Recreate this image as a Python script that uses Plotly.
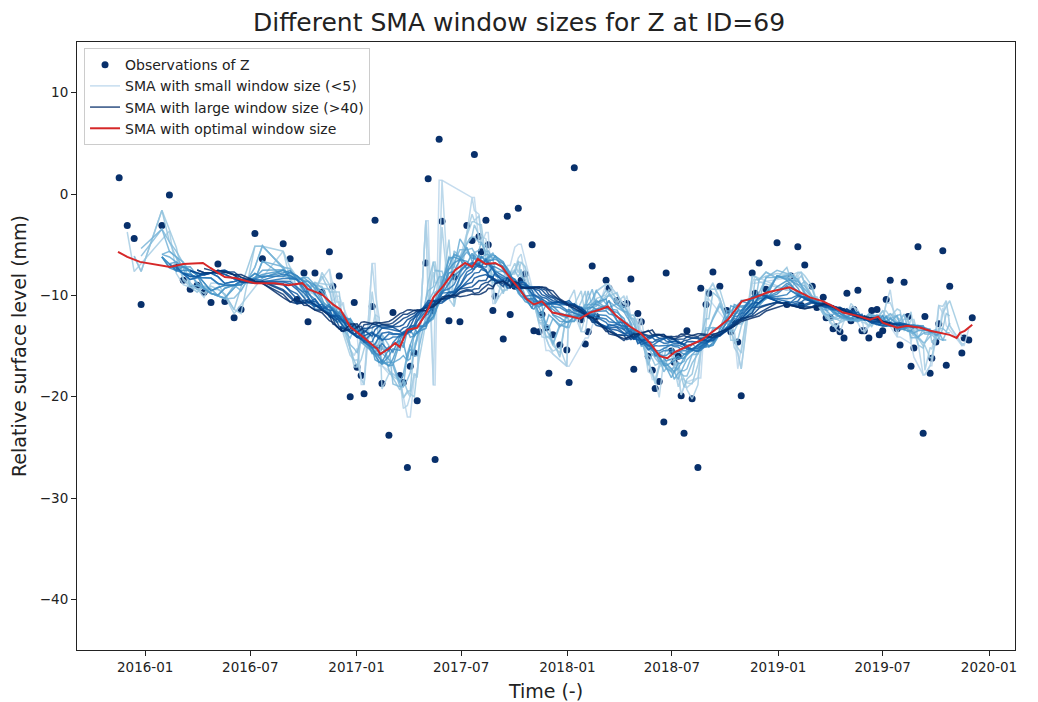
import pandas as pd
import plotly.graph_objects as go
from plotly.colors import sample_colorscale
import plotly.express as px

# Observations of Z at ID=69: days since 2016-01-01 and relative level (mm)
obs_day = [
    -45, -31, -19, -7, 29, 42, 54, 66, 78, 90, 102, 114, 126, 138, 154, 166,
    190, 203, 239, 251, 263, 275, 282, 294, 306, 319, 325, 331, 336, 343, 355,
    362, 367, 374, 379, 393, 398, 405, 410, 422, 429, 441, 447, 454, 459, 466,
    471, 486, 490, 499, 502, 509, 514, 526, 535, 545, 557, 566, 570, 578, 582,
    590, 594, 602, 606, 620, 627, 632, 640, 646, 651, 658, 670, 673, 682, 687,
    694, 699, 706, 718, 730, 734, 743, 755, 762, 767, 774, 781, 798, 803, 817,
    829, 834, 841, 846, 853, 859, 871, 878, 883, 890, 898, 902, 911, 916, 923,
    928, 933, 938, 947, 957, 962, 971, 976, 983, 995, 1007, 1014, 1020, 1026,
    1032, 1051, 1056, 1063, 1075, 1094, 1111, 1118, 1130, 1136, 1142, 1155,
    1163, 1174, 1179, 1186, 1191, 1196, 1203, 1210, 1215, 1222, 1227, 1234,
    1241, 1245, 1253, 1258, 1267, 1271, 1277, 1283, 1290, 1302, 1307, 1314,
    1321, 1326, 1331, 1338, 1347, 1350, 1359, 1362, 1369, 1374, 1381, 1387,
    1393, 1414, 1418, 1426, 1432,
]
obs_z = [
    1.6, -3.1, -4.4, -10.9, -3.1, -0.1, -7.2, -8.5, -9.4, -9.0, -9.7, -10.7,
    -6.9, -10.6, -12.2, -11.4, -3.9, -6.4, -4.9, -6.4, -10.4, -7.8, -12.6,
    -7.8, -9.7, -5.7, -9.1, -12.1, -8.1, -13.3, -20.0, -10.7, -17.1, -17.9,
    -19.7, -11.1, -2.6, -15.2, -18.7, -23.8, -11.7, -17.9, -18.6, -27.0,
    -17.0, -15.7, -20.4, -6.8, 1.5, -11.5, -26.2, 5.4, -2.7, -12.5, -8.2,
    -12.6, -3.1, -4.6, 3.9, -4.2, -5.7, -2.6, -5.0, -11.5, -10.1, -14.3,
    -2.2, -11.9, -9.1, -1.4, -8.5, -7.9, -5.0, -13.5, -13.6, -11.9, -13.2,
    -17.7, -13.9, -14.9, -15.4, -18.6, 2.6, -12.4, -14.8, -13.6, -7.1,
    -12.1, -8.5, -9.3, -10.5, -10.9, -10.8, -8.4, -17.3, -11.8, -12.6,
    -16.0, -17.4, -19.2, -18.5, -22.5, -7.8, -15.5, -16.6, -16.0, -19.9,
    -23.6, -13.5, -20.2, -27.0, -9.3, -10.9, -9.8, -7.7, -9.1, -11.5,
    -13.6, -12.6, -14.6, -19.9, -7.8, -9.8, -6.8, -9.4, -4.8, -10.9, -8.1,
    -5.2, -11.0, -7.0, -9.1, -11.2, -10.2, -12.2, -12.2, -13.3, -13.1,
    -13.6, -14.2, -9.8, -12.5, -11.4, -9.5, -13.5, -13.5, -14.2, -11.5,
    -11.4, -13.9, -13.5, -10.4, -8.5, -13.3, -14.9, -8.7, -12.1, -17.0,
    -15.2, -5.2, -23.6, -12.1, -17.7, -16.2, -14.6, -12.8, -5.6, -16.9,
    -9.1, -15.7, -14.2, -14.4, -12.2,
]

# SMA with the optimal window size: days since 2016-01-01 and level (mm)
opt_day = [
    -47, -31, -9, 21, 43, 66, 100, 113, 138, 156, 190, 225, 248, 272, 282,
    306, 325, 338, 355, 377, 402, 407, 421, 433, 441, 454, 471, 488, 499,
    516, 537, 554, 566, 576, 589, 606, 618, 632, 644, 661, 673, 687, 705,
    722, 736, 753, 770, 788, 801, 817, 840, 857, 874, 891, 904, 917, 940,
    964, 987, 1009, 1033, 1056, 1078, 1103, 1116, 1134, 1151, 1174, 1191,
    1208, 1232, 1255, 1269, 1277, 1302, 1319, 1342, 1359, 1376, 1393, 1405,
    1411, 1419, 1432,
]
opt_z = [
    -5.7, -6.2, -6.7, -7.0, -7.2, -6.9, -6.8, -7.3, -8.2, -8.3, -8.8, -8.8,
    -9.0, -8.8, -9.4, -9.9, -10.9, -11.4, -13.1, -14.1, -15.3, -15.8, -15.3,
    -14.7, -15.1, -13.4, -13.2, -11.6, -10.2, -9.1, -7.5, -6.8, -7.2, -6.4,
    -6.9, -6.8, -7.2, -8.3, -9.1, -10.4, -10.9, -10.6, -11.7, -11.9, -12.1,
    -12.3, -11.7, -11.4, -11.1, -12.1, -13.1, -13.7, -14.7, -16.0, -16.2,
    -15.6, -15.0, -14.4, -13.4, -12.4, -10.6, -10.2, -9.7, -9.4, -9.2, -9.7,
    -10.2, -10.6, -11.1, -11.7, -12.0, -12.4, -12.1, -12.7, -13.2, -13.0,
    -13.2, -13.5, -13.7, -13.9, -14.2, -13.7, -13.5, -12.9,
]

# SMA window sizes, in number of acquisitions (6-day revisit)
windows = [2, 3, 4, 6, 8, 10, 12, 14, 16, 18, 20, 22, 24, 26, 28, 30, 32,
           34, 36, 38, 40, 42, 44, 46]
REVISIT_DAYS = 6

x_ticks = ["2016-01-01", "2016-07-01", "2017-01-01", "2017-07-01",
           "2018-01-01", "2018-07-01", "2019-01-01", "2019-07-01", "2020-01-01"]
y_ticks = [10, 0, -10, -20, -30, -40]

origin = pd.Timestamp("2016-01-01")
obs_t = origin + pd.to_timedelta(obs_day, unit="D")
opt_t = origin + pd.to_timedelta(opt_day, unit="D")
z = pd.Series(obs_z, index=obs_t).sort_index()

FONT = "DejaVu Sans"
fig = go.Figure()

fig.add_trace(go.Scatter(
    x=z.index, y=z.values, mode="markers", name="Observations of Z",
    marker=dict(color="#08306b", size=7, line=dict(width=0)),
))

blues = px.colors.sequential.Blues
n = len(windows)
colors = sample_colorscale(blues, [0.28 + 0.72 * i / (n - 1) for i in range(n)])

for i, w in enumerate(windows):
    span = pd.Timedelta(days=w * REVISIT_DAYS)
    half = span / 2
    # centred moving average; a window needs at least two acquisitions
    sma = z.rolling(span, center=True, min_periods=2).mean()
    keep = (sma.index - half >= z.index[0]) & (sma.index + half <= z.index[-1])
    sma = sma[keep].dropna()
    if i == 0:
        name, show = "SMA with small window size (<5)", True
    elif i == n - 1:
        name, show = "SMA with large window size (>40)", True
    else:
        name, show = None, False
    fig.add_trace(go.Scatter(
        x=sma.index, y=sma.values, mode="lines", name=name, showlegend=show,
        line=dict(color=colors[i], width=1.5), opacity=0.85,
    ))

fig.add_trace(go.Scatter(
    x=opt_t, y=opt_z, mode="lines", name="SMA with optimal window size",
    line=dict(color="#d62728", width=2),
))

axis_common = dict(
    showgrid=False, zeroline=False, showline=True, linecolor="#222222",
    linewidth=1, mirror=True, ticks="outside", ticklen=5, tickcolor="#222222",
    tickfont=dict(family=FONT, size=13.5, color="#222222"),
    automargin=False,
)

fig.update_layout(
    width=1038, height=702,
    margin=dict(l=77, r=23, t=42, b=52),
    paper_bgcolor="white", plot_bgcolor="white",
    font=dict(family=FONT, color="#222222"),
    title=dict(text="Different SMA window sizes for Z at ID=69",
               x=0.5, xanchor="center", y=0.968, yanchor="middle",
               font=dict(family=FONT, size=25, color="#222222")),
    xaxis=dict(
        **axis_common,
        type="date",
        range=["2015-09-05", "2020-02-15"],
        tickvals=x_ticks, tickformat="%Y-%m",
        title=dict(text="Time (-)", font=dict(family=FONT, size=19), standoff=12),
    ),
    yaxis=dict(
        **axis_common,
        range=[-45, 15],
        tickvals=y_ticks,
        title=dict(text="Relative surface level (mm)",
                   font=dict(family=FONT, size=19), standoff=8),
    ),
    legend=dict(
        x=0.0075, y=0.99, xanchor="left", yanchor="top",
        bgcolor="rgba(255,255,255,0.85)", bordercolor="#cccccc", borderwidth=1,
        font=dict(family=FONT, size=14, color="#222222"),
        itemwidth=30, tracegroupgap=0,
    ),
    showlegend=True,
)

fig.write_html("out.html")
